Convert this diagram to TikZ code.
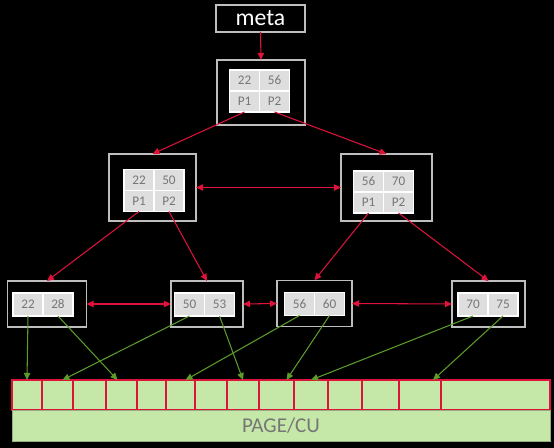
\documentclass[tikz,border=0pt]{standalone}
\usepackage{fontspec}
\setmainfont{Carlito}
\usetikzlibrary{positioning,arrows.meta}

\definecolor{linkred}{RGB}{222,18,58}
\definecolor{ptrgreen}{RGB}{92,156,40}
\definecolor{pagegreen}{RGB}{197,232,168}
\definecolor{boxgray}{RGB}{190,190,190}
\definecolor{cellgray}{RGB}{222,222,222}
\definecolor{keygray}{RGB}{118,118,118}

\begin{document}
\begin{tikzpicture}[x=0.02cm,y=-0.02cm,
  box/.style={draw=boxgray, line width=0.6pt, inner sep=0pt, outer sep=0pt},
  cell/.style={draw=white, line width=0.6pt, fill=cellgray, text=keygray,
    minimum width=0.6cm, minimum height=0.42cm, inner sep=0pt, outer sep=0pt,
    font=\fontsize{7.5}{9}\selectfont},
  leaf/.style={cell, minimum height=0.46cm},
  link/.style={linkred, line width=0.6pt, -{Triangle[length=4pt,width=3.6pt]}},
  twoway/.style={link, {Triangle[length=4pt,width=3.6pt]}-{Triangle[length=4pt,width=3.6pt]}},
  ptr/.style={ptrgreen, line width=0.6pt, -{Triangle[length=4pt,width=3.6pt]}},
  slot/.style={draw=linkred, fill=pagegreen, line width=0.6pt,
    minimum height=0.6cm, inner sep=0pt, outer sep=0pt}]

  % fondo
  \fill[black] (0,0) rectangle (554,448);

  % meta
  \node[box, minimum width=1.78cm, minimum height=0.54cm, text=white,
    font=\fontsize{13.5}{16}\selectfont] (meta) at (260.5,18.5) {meta};

  % raiz
  \node[box, minimum width=1.76cm, minimum height=1.3cm] (root) at (261,92.5) {};
  \node[cell] (tk1) at (244.5,80.5) {22};
  \node[cell, right=0pt of tk1] (tk2) {56};
  \node[cell, below=0pt of tk1] (tp1) {P1};
  \node[cell, right=0pt of tp1] (tp2) {P2};

  % nivel 2
  \node[box, minimum width=1.74cm, minimum height=1.34cm] (lbox) at (152.5,187.5) {};
  \node[cell] (lk1) at (139,180) {22};
  \node[cell, right=0pt of lk1] (lk2) {50};
  \node[cell, below=0pt of lk1] (lp1) {P1};
  \node[cell, right=0pt of lp1] (lp2) {P2};

  \node[box, minimum width=1.82cm, minimum height=1.34cm] (rbox) at (386.5,187.5) {};
  \node[cell] (rk1) at (368.5,181.5) {56};
  \node[cell, right=0pt of rk1] (rk2) {70};
  \node[cell, below=0pt of rk1] (rp1) {P1};
  \node[cell, right=0pt of rp1] (rp2) {P2};

  % hojas
  \node[box, minimum width=1.58cm, minimum height=0.92cm] (leaf1) at (47,304) {};
  \node[leaf] (f1a) at (28,304.5) {22};
  \node[leaf, right=0pt of f1a] (f1b) {28};

  \node[box, minimum width=1.44cm, minimum height=0.92cm] (leaf2) at (207,304) {};
  \node[leaf] (f2a) at (189.5,304.5) {50};
  \node[leaf, right=0pt of f2a] (f2b) {53};

  \node[box, minimum width=1.5cm, minimum height=0.93cm] (leaf3) at (314.5,303.5) {};
  \node[leaf] (f3a) at (299.5,304) {56};
  \node[leaf, right=0pt of f3a] (f3b) {60};

  \node[box, minimum width=1.46cm, minimum height=0.92cm] (leaf4) at (488.5,304) {};
  \node[leaf] (f4a) at (473,304.5) {70};
  \node[leaf, right=0pt of f4a] (f4b) {75};

  % pagina
  \foreach \a/\b [count=\i] in {12/42,42/73,73/106,106/137,137/166,166/195,195/227,
      227/259,259/294,294/328,328/362,362/399,399/441,441/550}
    \node[slot, minimum width={(\b-\a)*0.02cm}] (c\i) at ({(\a+\b)/2},395) {};
  \node[draw=pagegreen!75!black, line width=0.4pt, fill=pagegreen, text=keygray,
    minimum width=10.76cm, minimum height=0.62cm, inner sep=0pt,
    font=\fontsize{12}{14}\selectfont] (page) at (281,425.5) {PAGE/CU};

  % enlaces
  \draw[link] (meta.south) -- (root.north);
  \draw[link] (tp1.south) -- (lbox.north);
  \draw[link] (tp2.south) -- (rbox.north);
  \draw[twoway] (lbox.east) -- (rbox.west);
  \draw[link] (lp1.south) -- (leaf1.north);
  \draw[link] (lp2.south) -- (leaf2.north);
  \draw[link] (rp1.south) -- (leaf3.north);
  \draw[link] (rp2.south) -- (leaf4.north);
  \draw[twoway] (leaf1.east) -- (leaf2.west);
  \draw[twoway] (leaf2.east) -- (leaf3.west);
  \draw[twoway] (leaf3.east) -- (leaf4.west);

  % punteros a la pagina
  \draw[ptr] (f1a.south) -- (c1.north);
  \draw[ptr] (f1b.south) -- ([xshift=-0.08cm]c4.north);
  \draw[ptr] (f2a.south) -- ([xshift=0.1cm]c2.north);
  \draw[ptr] (f2b.south) -- (c8.north);
  \draw[ptr] (f3a.south) -- ([xshift=0.1cm]c6.north);
  \draw[ptr] (f3b.south) -- ([xshift=0.2cm]c9.north);
  \draw[ptr] (f4a.south) -- (c10.north);
  \draw[ptr] (f4b.south) -- ([xshift=0.26cm]c13.north);
\end{tikzpicture}
\end{document}
